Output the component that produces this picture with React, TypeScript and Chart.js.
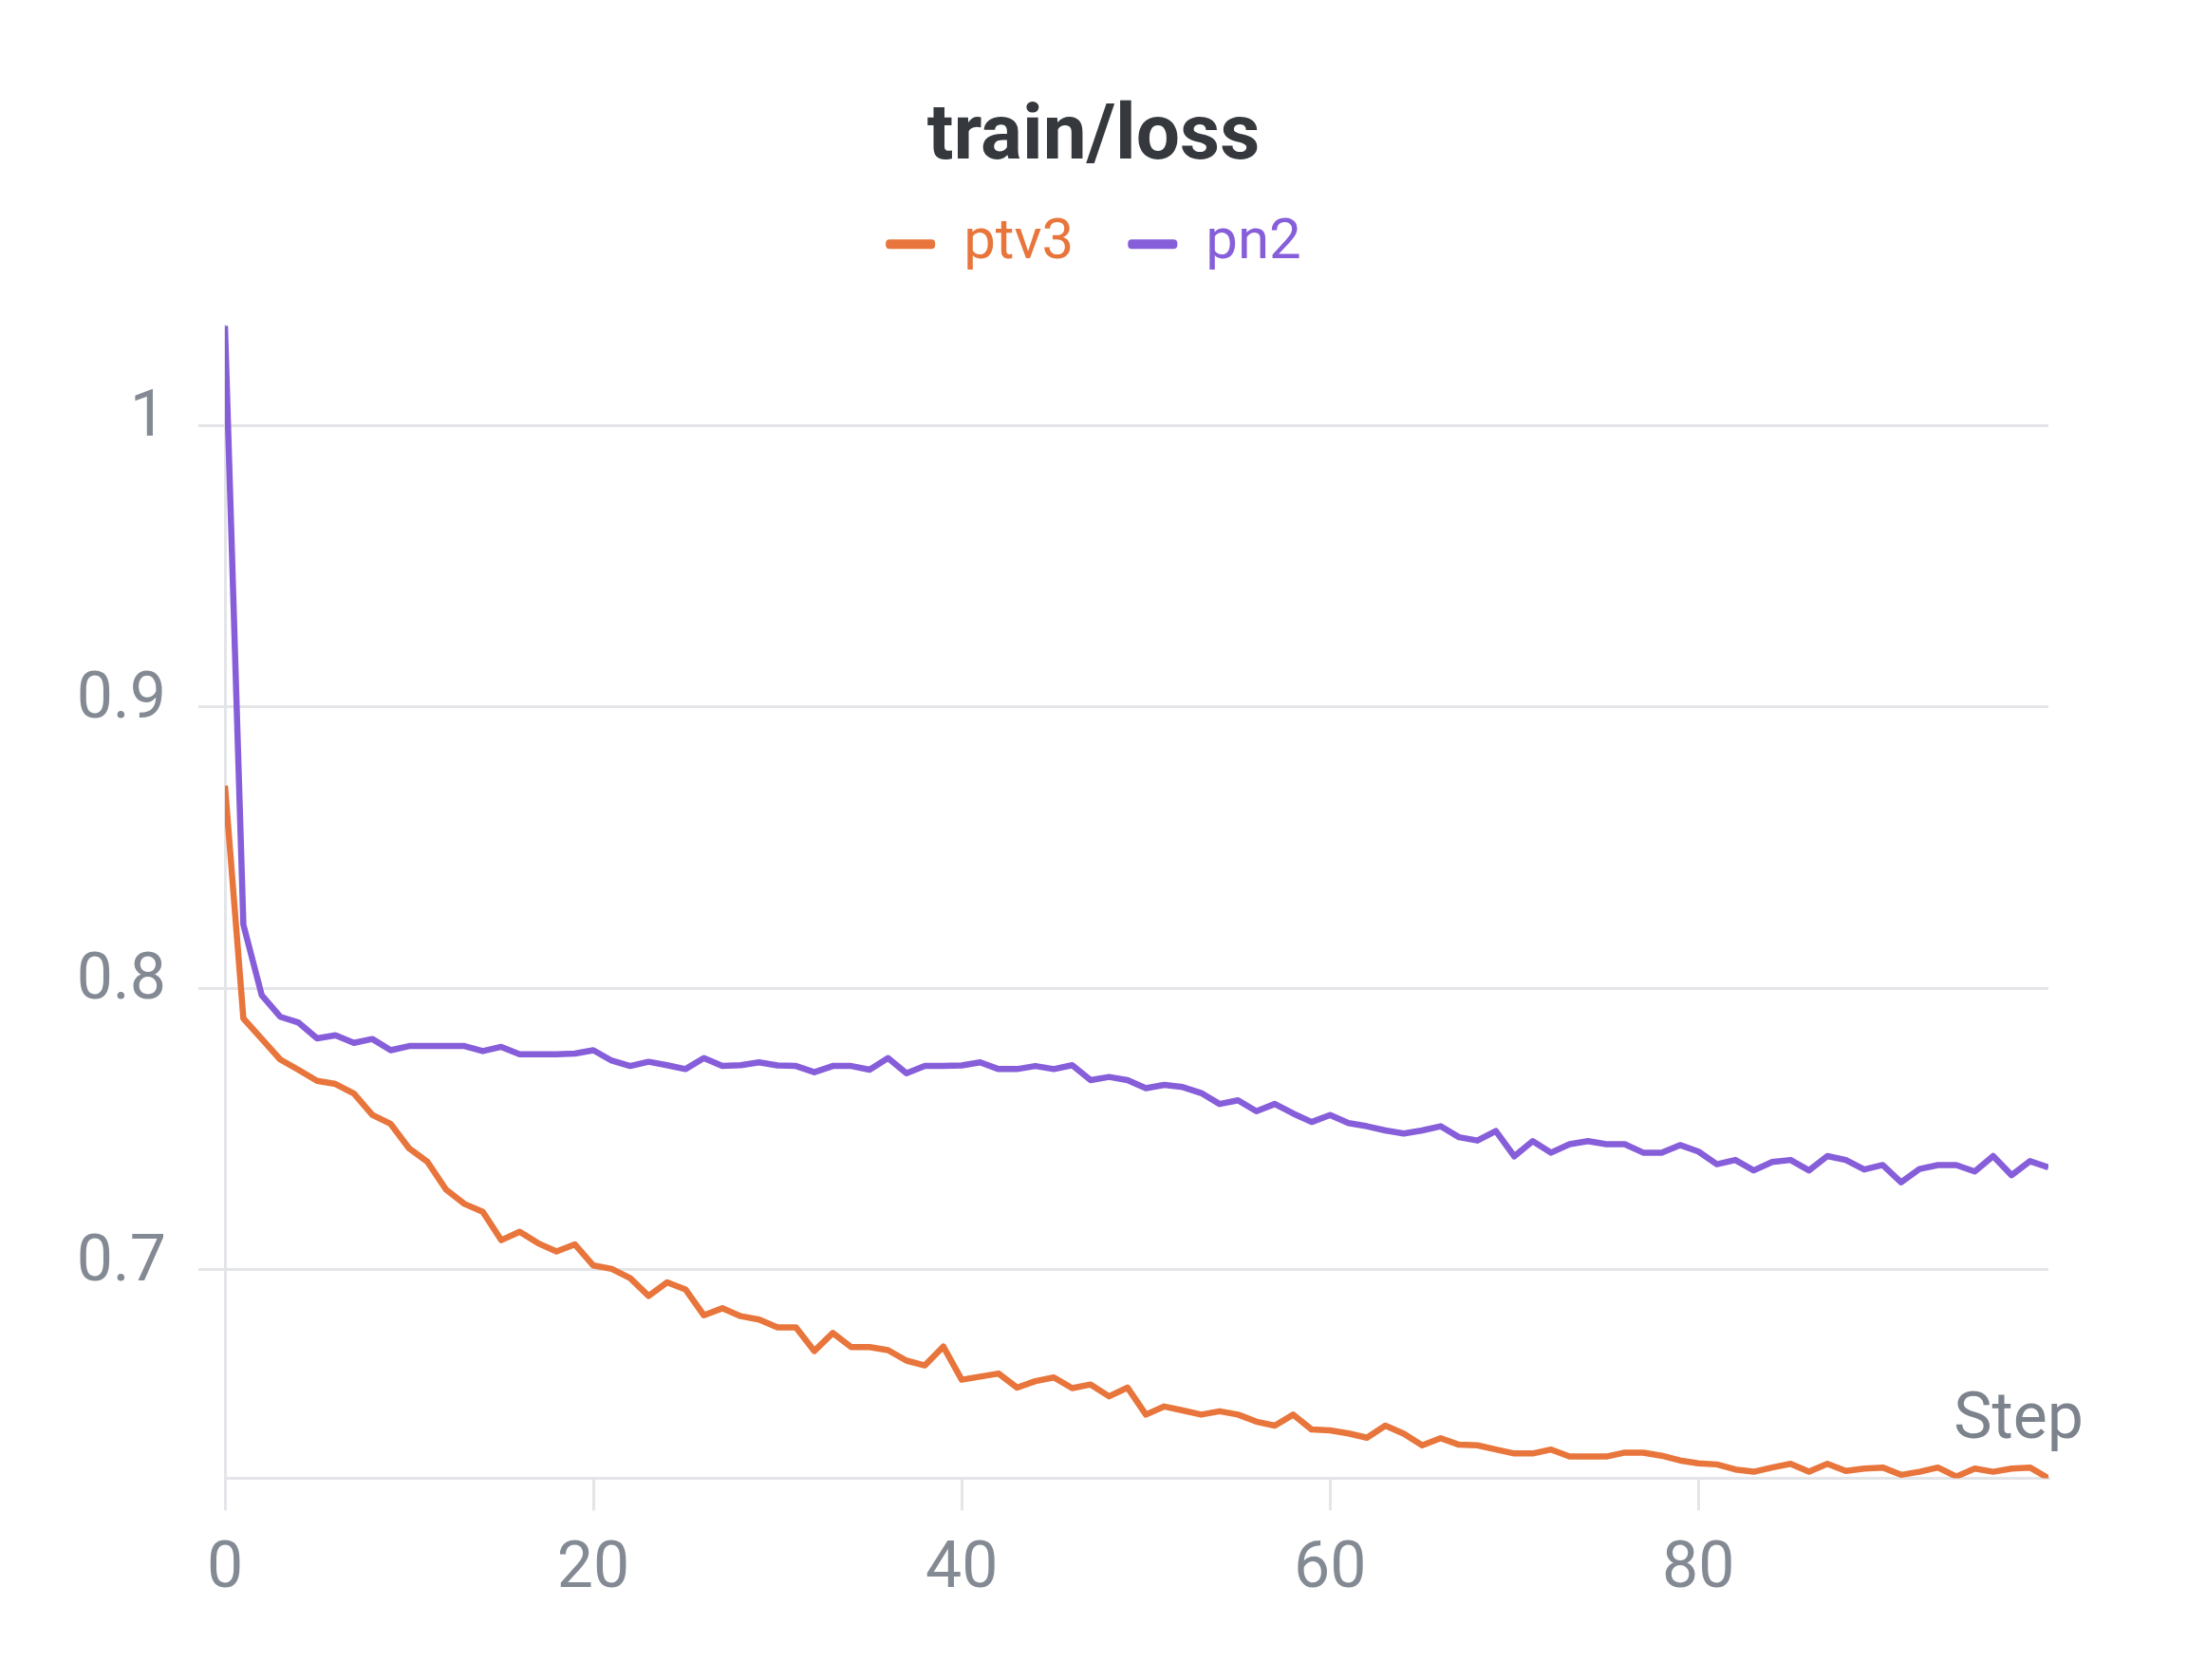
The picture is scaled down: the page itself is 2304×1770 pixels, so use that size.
import { useEffect, useRef } from 'react';
import { Chart, registerables } from 'chart.js';

Chart.register(...registerables);

// training steps logged for both runs
const steps: number[] = Array.from({ length: 100 }, (_, i) => i);

const ptv3: number[] = [
  0.872, 0.7893, 0.782, 0.7747, 0.771, 0.7671, 0.766, 0.7626, 0.755, 0.7518,
  0.7431, 0.7383, 0.7285, 0.7234, 0.7206, 0.7105, 0.7135, 0.7094, 0.7065, 0.709,
  0.7015, 0.7003, 0.697, 0.6907, 0.6955, 0.693, 0.6838, 0.6863, 0.6835, 0.6823,
  0.6795, 0.6795, 0.6711, 0.6775, 0.6725, 0.6725, 0.6714, 0.6677, 0.666, 0.6727,
  0.6609, 0.662, 0.6631, 0.6581, 0.6604, 0.6617, 0.6579, 0.6592, 0.655, 0.6581,
  0.6485, 0.6514, 0.65, 0.6485, 0.6497, 0.6485, 0.646, 0.6446, 0.6485, 0.6432,
  0.6429, 0.6418, 0.6403, 0.6446, 0.6417, 0.6376, 0.6401, 0.6378, 0.6376, 0.6361,
  0.6347, 0.6347, 0.6361, 0.6336, 0.6336, 0.6336, 0.635, 0.635, 0.6339, 0.6322,
  0.6312, 0.6308, 0.629, 0.6282, 0.6297, 0.631, 0.6282, 0.631, 0.6285, 0.6293,
  0.6297, 0.6271, 0.6282, 0.6297, 0.6265, 0.6293, 0.6282, 0.6293, 0.6297, 0.6259,
];

const pn2: number[] = [
  1.0355, 0.8226, 0.7975, 0.7899, 0.7878, 0.7822, 0.7833, 0.7806, 0.782, 0.778,
  0.7795, 0.7795, 0.7795, 0.7795, 0.7777, 0.7792, 0.7766, 0.7766, 0.7766, 0.7768,
  0.778, 0.7743, 0.7724, 0.7739, 0.7727, 0.7713, 0.7752, 0.7724, 0.7727, 0.7737,
  0.7726, 0.7724, 0.7702, 0.7724, 0.7724, 0.7711, 0.7752, 0.7698, 0.7724, 0.7724,
  0.7726, 0.7737, 0.7713, 0.7713, 0.7724, 0.7713, 0.7727, 0.7674, 0.7685, 0.7674,
  0.7645, 0.7657, 0.7649, 0.7628, 0.7589, 0.7602, 0.7563, 0.7589, 0.7555, 0.7525,
  0.755, 0.7521, 0.751, 0.7495, 0.7484, 0.7495, 0.751, 0.7471, 0.7459, 0.7493,
  0.7403, 0.7457, 0.7416, 0.7446, 0.7457, 0.7446, 0.7446, 0.7416, 0.7416, 0.7443,
  0.742, 0.7375, 0.739, 0.7353, 0.7383, 0.739, 0.7353, 0.7404, 0.739, 0.7356,
  0.7372, 0.7311, 0.7358, 0.7372, 0.7372, 0.7349, 0.7404, 0.7336, 0.7386, 0.7364,
];

const xTickValues: number[] = [0, 20, 40, 60, 80];
const yTickValues: number[] = [0.7, 0.8, 0.9, 1];

const ORANGE = '#e8753b';
const PURPLE = '#875ed9';
const GRID = '#e4e5e8';
const TICK_TEXT = '#848a93';

// draws the "Step" axis name just above the x axis, at the right end
const stepLabel = {
  id: 'stepLabel',
  afterDraw(chart: Chart) {
    const { ctx, chartArea } = chart;
    ctx.save();
    ctx.font = '68px Roboto';
    ctx.fillStyle = '#7c838c';
    ctx.textAlign = 'right';
    ctx.textBaseline = 'alphabetic';
    ctx.fillText('Step', chartArea.right + 37, chartArea.bottom - 42);
    ctx.restore();
  },
};

export default function App() {
  const canvasRef = useRef<HTMLCanvasElement | null>(null);

  useEffect(() => {
    if (!canvasRef.current) return;
    Chart.defaults.font.family = 'Roboto';

    const yMin = Math.min(...ptv3, ...pn2);
    const yMax = Math.max(...ptv3, ...pn2);

    const chart = new Chart(canvasRef.current, {
      type: 'line',
      data: {
        datasets: [
          {
            label: 'ptv3',
            data: steps.map((s, i) => ({ x: s, y: ptv3[i] })),
            borderColor: ORANGE,
            backgroundColor: ORANGE,
            borderWidth: 6.5,
            pointRadius: 0,
            tension: 0,
            borderJoinStyle: 'round',
          },
          {
            label: 'pn2',
            data: steps.map((s, i) => ({ x: s, y: pn2[i] })),
            borderColor: PURPLE,
            backgroundColor: PURPLE,
            borderWidth: 6.5,
            pointRadius: 0,
            tension: 0,
            borderJoinStyle: 'round',
          },
        ],
      },
      options: {
        animation: false,
        responsive: true,
        maintainAspectRatio: false,
        layout: { padding: { top: 0, left: 0, right: 0, bottom: 51 } },
        plugins: {
          title: {
            display: true,
            text: 'train/loss',
            color: '#35383c',
            font: { size: 82, weight: 'bold', lineHeight: 0.575 },
            padding: { top: 123, bottom: 0 },
          },
          // empty spacer between the legend and the plot
          subtitle: {
            display: true,
            text: '',
            weight: 500,
            padding: 0,
            font: { size: 46, lineHeight: 1 },
          },
          legend: {
            display: true,
            position: 'top',
            labels: {
              font: { size: 60 },
              boxWidth: 52,
              boxHeight: 10,
              padding: 57,
              useBorderRadius: true,
              borderRadius: 4,
              generateLabels: (c: Chart) =>
                Chart.defaults.plugins.legend.labels.generateLabels(c).map((item) => ({
                  ...item,
                  fillStyle: item.strokeStyle,
                  fontColor: item.strokeStyle as string,
                  lineWidth: 0,
                })),
            },
          },
          tooltip: { enabled: false },
        },
        scales: {
          x: {
            type: 'linear',
            min: 0,
            max: steps[steps.length - 1],
            afterBuildTicks: (scale) => {
              scale.ticks = xTickValues.map((v) => ({ value: v }));
            },
            grid: {
              display: true,
              drawOnChartArea: false,
              drawTicks: true,
              tickLength: 34,
              color: GRID,
              lineWidth: 3,
            },
            border: { display: true, color: GRID, width: 3 },
            ticks: {
              color: TICK_TEXT,
              font: { size: 68 },
              padding: 23,
              maxRotation: 0,
              autoSkip: false,
              callback: (v) => String(v),
            },
          },
          y: {
            type: 'linear',
            min: yMin,
            max: yMax,
            afterBuildTicks: (scale) => {
              scale.ticks = yTickValues.map((v) => ({ value: v }));
            },
            afterFit: (scale) => {
              scale.width = 237;
            },
            grid: {
              display: true,
              drawTicks: true,
              tickLength: 28,
              color: GRID,
              lineWidth: 3,
            },
            border: { display: true, color: GRID, width: 3 },
            ticks: {
              color: TICK_TEXT,
              font: { size: 68 },
              padding: 34,
              labelOffset: -6,
              autoSkip: false,
              callback: (v) => String(v),
            },
          },
          // blank right-hand margin (room for "Step"); keeps title and legend centred on the page
          yRight: {
            type: 'linear',
            position: 'right',
            grid: { display: false },
            border: { display: false },
            ticks: { display: false },
            afterFit: (scale) => {
              scale.width = 146;
            },
          },
        },
      },
      plugins: [stepLabel],
    });

    return () => {
      chart.destroy();
    };
  }, []);

  return (
    <div
      style={{
        position: 'fixed',
        left: 0,
        top: 0,
        width: '100vw',
        height: '100vh',
        background: '#ffffff',
      }}
    >
      <canvas ref={canvasRef} />
    </div>
  );
}
